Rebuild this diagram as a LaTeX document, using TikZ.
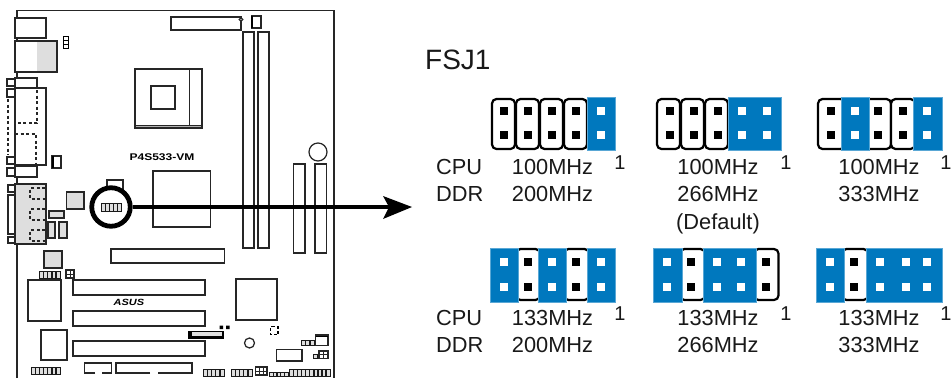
\documentclass[tikz,border=0pt]{standalone}
\usepackage{fontspec}
\setmainfont{Liberation Sans}
\definecolor{jblue}{HTML}{0078BE}
\definecolor{pgrey}{HTML}{DEDEDE}
\tikzset{
  part/.style={draw=black!85,line width=1.25pt,fill=white},
  gpart/.style={draw=black!85,line width=1.25pt,fill=pgrey},
  dash line/.style={draw=black!85,line width=1.2pt,dash pattern=on 3pt off 2.5pt},
  lbl/.style={inner sep=0pt,anchor=base,font=\fontsize{21.8}{24}\selectfont,text=black!90},
  lbll/.style={lbl,anchor=base west},
  jwhite/.style={draw=black,fill=white,line width=2.2pt,rounded corners=4.5pt},
  jb/.style={fill=jblue,draw=jblue!65!white,line width=.4pt}
}
% header: x1 y1 x2 y2 n
\newcommand{\hdr}[5]{%
  \fill[pgrey] (#1,#2) rectangle (#3,#4);
  \draw[black!90,line width=1pt] (#1,#2) rectangle (#3,#4);
  \foreach \k in {1,...,#5}{\draw[black!90,line width=1.4pt] ({#1+(#3-#1)*\k/(#5+1)},#2) -- ({#1+(#3-#1)*\k/(#5+1)},#4);}
}
% pin: style x y
\newcommand{\jpin}[3]{\fill[#1] (#2-3.9,#3-3.9) rectangle (#2+3.9,#3+3.9);}
\begin{document}
\begin{tikzpicture}[x=1pt,y=-1pt]
\useasboundingbox (0,0) rectangle (951,378);
\fill[white] (0,0) rectangle (951,378);
% board outline
\draw[black!85,line width=1.3pt] (17,378) -- (17,10.8) -- (334,10.8) -- (334,378);
% top left I/O
\draw[part] (15,18) rectangle (46,38);
\draw[part] (15,41) rectangle (57,72);
\fill[pgrey] (37,42) rectangle (56.5,71.5);
\draw[black!85,line width=1.25pt] (15,41) rectangle (57,72);
\foreach \yy in {36.5,40.5,44.5}{\draw[black,fill=white,line width=1pt] (63.5,\yy) rectangle (68,\yy+3.5);}
% COM
\draw[part] (15,78) rectangle (37,88);
\draw[part] (15,88) rectangle (46,165);
\draw[part] (15,166) rectangle (37,177);
\draw[part] (7,79) rectangle (15,86);
\draw[part] (7,89) rectangle (15,97);
\draw[part] (7,157) rectangle (15,164);
\draw[part] (7,168) rectangle (15,176);
\draw[dash line] (8,99) -- (8,155);
\draw[dash line] (15,99) -- (15,155);
\draw[dash line] (37,90) -- (37,123) -- (15,123);
\draw[dash line] (15,134) -- (36,134) -- (36,164);
\draw[part] (52,156) rectangle (61,168);
\draw[black,line width=2pt] (52.5,156) -- (52.5,168);
% VGA
\draw[part] (8,185) rectangle (15,192);
\draw[part] (8,195) rectangle (15,234);
\draw[part] (8,237) rectangle (15,243);
\draw[gpart] (15,184) rectangle (46,244);
\foreach \yy in {188,209,230}{
  \draw[dash line] (45,\yy) -- (30,\yy) -- (30,\yy+11) -- (45,\yy+11);
}
\draw[gpart] (66.5,192) rectangle (84,209);
\draw[gpart] (49,211) rectangle (64,218);
\draw[gpart] (48,222) rectangle (55,238);
\draw[gpart] (59,222) rectangle (67,238);
% top connectors
\draw[part] (171,17) rectangle (241,30);
\draw[part] (241,19.5) circle (1.8);
\draw[part] (252,16) rectangle (261,28);
\draw[black,line width=2pt] (252,16) -- (252,28);
% CPU socket
\draw[part] (135,69) rectangle (202,128);
\fill[black!30] (135,125.5) rectangle (202,128);
\draw[black!85,line width=1.25pt] (135,69) rectangle (202,128);
\draw[black!85,line width=1.25pt] (189.5,69) -- (189.5,125.5);
\draw[black!85,line width=1.25pt] (135,125.5) -- (202,125.5);
\draw[part] (151,86) rectangle (175,109);
% DIMMs
\draw[part] (243,32) rectangle (254,248);
\draw[part] (258,32) rectangle (269,248);
% right slots
\draw[part] (293.5,164) rectangle (305,253);
\draw[part] (315,164) rectangle (326.5,253);
\draw[part] (318,152) circle (9);
% chipset
\draw[part] (153,171) rectangle (210.5,227);
\node[inner sep=0pt,font=\fontsize{9.7}{11}\bfseries,xscale=1.24] (model) at (162,157) {P4S533-VM};
% slots
\draw[part] (111,249) rectangle (224.5,263);
\draw[part] (73,280) rectangle (205,295);
\draw[part] (73,311) rectangle (205,326);
\draw[part] (73,341) rectangle (205,356);
\node[inner sep=0pt,font=\fontsize{10}{11}\bfseries\itshape,xscale=1.1,yscale=.9] (logo) at (129,302) {ASUS};
% lower left
\draw[gpart] (44,251) rectangle (62,268);
\hdr{39.5}{271}{60}{278}{4}
\draw[part] (66,270) rectangle (74,278);
\draw[black!85,line width=1pt] (70,270) -- (70,278) (66,274) -- (74,274);
\draw[part] (28,280) rectangle (61,321);
\draw[part] (41,330) rectangle (67,360);
\hdr{31.5}{367}{60}{374}{6}
\draw[black!85,line width=1.25pt] (95,373) -- (84.5,373) -- (84.5,363) -- (111.5,363) -- (111.5,373) -- (102,373);
\draw[black!85,line width=1.25pt] (150,373) -- (116,373) -- (116,363) -- (192,363) -- (192,373) -- (158,373);
% lower right
\draw[part] (236,279) rectangle (277,320);
\draw[black,line width=1.2pt,dash pattern=on 3pt off 2pt] (274,326.5) -- (270.5,326.5) -- (270.5,334.5) -- (278,334.5) -- (278,326.5) -- cycle;
\draw[part] (249.5,343) circle (5);
\fill[black] (188,331) rectangle (224,338.5);
\fill[pgrey] (192,332) rectangle (222,336);
\fill[black] (219.5,325.5) rectangle (223,329) (226,325.5) rectangle (229.5,329);
\hdr{301.5}{340.5}{314}{345.5}{2}
\draw[part] (315.5,335) rectangle (328,345.5);
\draw[black,line width=1.4pt] (315.5,336.5) -- (328,336.5);
\draw[part] (276.5,349.5) rectangle (302,361);
\hdr{313}{354}{328}{358.5}{2}
\draw[part] (319,351) rectangle (328,358.5);
\draw[black!85,line width=1pt] (323.5,351) -- (323.5,358.5) (319,354.5) -- (328,354.5);
\hdr{203}{369}{224}{376}{4}
\hdr{231}{369}{252}{376}{4}
\draw[part] (255.5,367) rectangle (267,375);
\draw[black!85,line width=1pt] (259.5,367) -- (259.5,375) (263.5,367) -- (263.5,375) (255.5,371) -- (267,371);
\hdr{269.5}{372}{288}{376}{4}
\hdr{289.5}{369}{330}{376}{9}
% callout
\fill[white] (91,187) rectangle (132,228);
\draw[part] (107,180) rectangle (123,195);
\node[circle,draw=black,line width=4.8pt,fill=white,minimum size=38.5pt,inner sep=0pt] (ring) at (111,207) {};
\hdr{101.5}{203.5}{121.5}{211}{4}
\coordinate (arrowend) at (412,207);
\draw[black,line width=4.8pt] (ring.east) -- (390,207);
\path[fill=black] (arrowend) -- (383,196) -- (389,207) -- (383,219) -- cycle;
% title
\node[lbll,font=\fontsize{28}{30}\selectfont] (title) at (425,69) {FSJ1};
% row 1 jumpers
\foreach \xx in {491,515,539,563}{\draw[jwhite] (\xx+1,99) rectangle (\xx+24,149);}
\fill[jb] (587,97) rectangle (615,150);
\foreach \xx in {504,528,552,576}{\jpin{black}{\xx}{111}\jpin{black}{\xx}{135}}
\jpin{white}{601}{111}\jpin{white}{601}{135}
%
\foreach \xx in {656,680,704}{\draw[jwhite] (\xx+1,99) rectangle (\xx+24,149);}
\fill[jb] (728,97) rectangle (781,150);
\foreach \xx in {670,694,718}{\jpin{black}{\xx}{111}\jpin{black}{\xx}{135}}
\foreach \xx in {742,767}{\jpin{white}{\xx}{111}\jpin{white}{\xx}{135}}
%
\draw[jwhite] (818,99) rectangle (845,149);
\draw[jwhite] (865,99) rectangle (891,149);
\draw[jwhite] (891,99) rectangle (915,149);
\fill[jb] (841,97) rectangle (869,150);
\fill[jb] (913,97) rectangle (942,150);
\foreach \xx in {831,878,903}{\jpin{black}{\xx}{111}\jpin{black}{\xx}{135}}
\foreach \xx in {855,927}{\jpin{white}{\xx}{111}\jpin{white}{\xx}{135}}
% row 2 jumpers
\draw[jwhite] (516,249) rectangle (540,300);
\draw[jwhite] (564,249) rectangle (589,300);
\fill[jb] (490,248) rectangle (518.5,302);
\fill[jb] (538,248) rectangle (566,302);
\fill[jb] (587,248) rectangle (615,302);
\foreach \xx in {528,576}{\jpin{black}{\xx}{262}\jpin{black}{\xx}{287}}
\foreach \xx in {504,552,601}{\jpin{white}{\xx}{262}\jpin{white}{\xx}{287}}
%
\draw[jwhite] (680,249) rectangle (705,300);
\draw[jwhite] (754,249) rectangle (778.5,300);
\fill[jb] (653,248) rectangle (682,302);
\fill[jb] (703,248) rectangle (756,302);
\foreach \xx in {691,766}{\jpin{black}{\xx}{262}\jpin{black}{\xx}{287}}
\foreach \xx in {667,717,741}{\jpin{white}{\xx}{262}\jpin{white}{\xx}{287}}
%
\draw[jwhite] (842,249) rectangle (868,300);
\fill[jb] (816,248) rectangle (844,302);
\fill[jb] (866,248) rectangle (942,302);
\foreach \xx in {854}{\jpin{black}{\xx}{262}\jpin{black}{\xx}{287}}
\foreach \xx in {830,880,906,927}{\jpin{white}{\xx}{262}\jpin{white}{\xx}{287}}
% labels
\node[lbll] (cpua) at (436,174) {CPU};
\node[lbll] (ddra) at (436,201) {DDR};
\node[lbll] (cpub) at (436,325) {CPU};
\node[lbll] (ddrb) at (436,352) {DDR};
\node[lbl] (a1) at (552.5,174) {100MHz};
\node[lbl] (a2) at (552.5,201) {200MHz};
\node[lbl] (b1) at (718,174) {100MHz};
\node[lbl] (b2) at (718,201) {266MHz};
\node[lbl] (b3) at (718,229) {(Default)};
\node[lbl] (c1) at (879,174) {100MHz};
\node[lbl] (c2) at (879,201) {333MHz};
\node[lbl] (d1) at (552.5,325) {133MHz};
\node[lbl] (d2) at (552.5,352) {200MHz};
\node[lbl] (e1) at (718,325) {133MHz};
\node[lbl] (e2) at (718,352) {266MHz};
\node[lbl] (f1) at (879,325) {133MHz};
\node[lbl] (f2) at (879,352) {333MHz};
\foreach \nm/\xx/\yy in {p1/620/169,p2/786/169,p3/946/169,p4/620/320,p5/786/320,p6/946/320}{
  \node[lbl,font=\fontsize{20}{22}\selectfont] (\nm) at (\xx,\yy) {1};
}
\end{tikzpicture}
\end{document}
